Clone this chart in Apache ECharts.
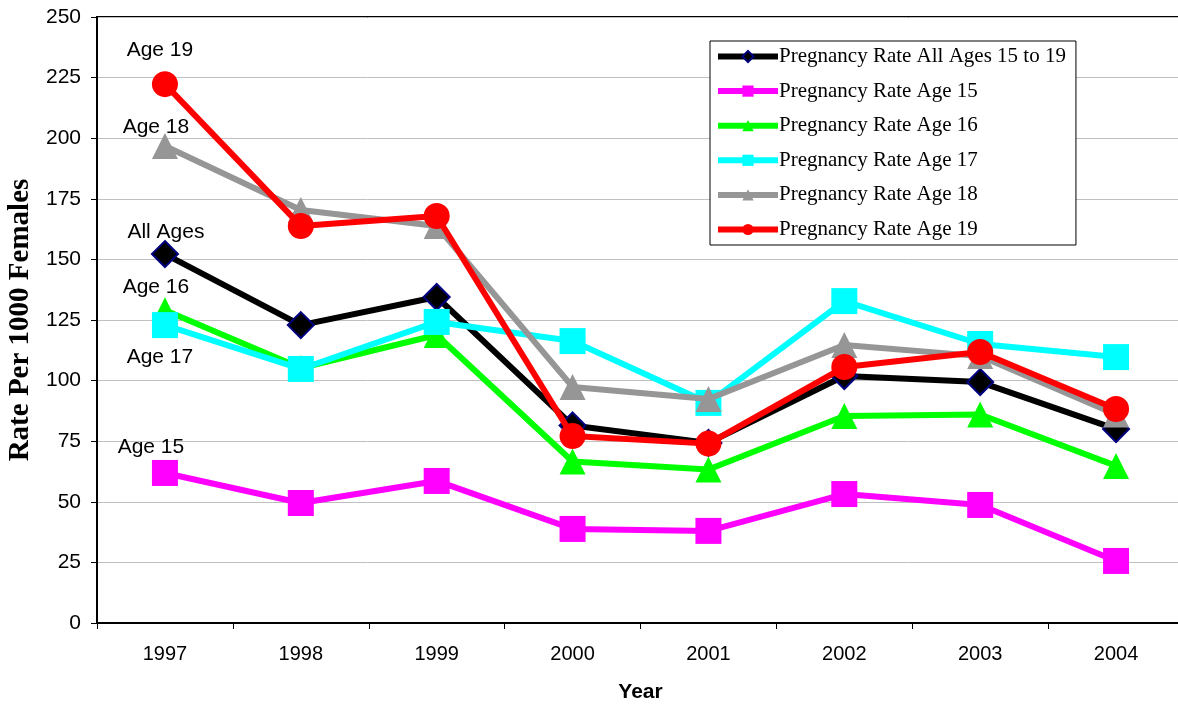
<!DOCTYPE html>
<html>
<head>
<meta charset="utf-8">
<script src="https://cdn.jsdelivr.net/npm/echarts@6/dist/echarts.min.js"></script>
<style>
html,body{margin:0;padding:0;background:#fff;overflow:hidden;}
#c{width:1178px;height:707px;}
</style>
</head>
<body>
<div id="c"></div>
<script>
const years = ['1997','1998','1999','2000','2001','2002','2003','2004'];
const seriesNames = ['Pregnancy Rate All Ages 15 to 19','Pregnancy Rate Age 15','Pregnancy Rate Age 16','Pregnancy Rate Age 17','Pregnancy Rate Age 18','Pregnancy Rate Age 19'];
const allAges = [152.2, 122.9, 134.5, 81.5, 74.3, 101.9, 99.4, 80.0];
const age15 = [61.9, 49.5, 58.6, 38.8, 38.0, 53.2, 48.7, 25.6];
const age16 = [129.0, 105.2, 118.8, 66.6, 63.3, 85.4, 86.0, 64.8];
const age17 = [122.9, 104.8, 124.2, 116.3, 90.8, 132.8, 115.1, 109.7];
const age18 = [196.8, 170.4, 163.8, 97.4, 92.4, 114.7, 110.1, 86.0];
const age19 = [222.3, 163.8, 167.9, 77.1, 74.0, 105.6, 111.8, 88.3];
const firstLabels = ['All Ages','Age 15','Age 16','Age 17','Age 18','Age 19'];
const yTicks = [0, 25, 50, 75, 100, 125, 150, 175, 200, 225, 250];

const values = [allAges, age15, age16, age17, age18, age19];
const colors = ['#000000','#FF00FF','#00FF00','#00FFFF','#969696','#FF0000'];
const symbols = ['diamond','rect','triangle','rect','triangle','circle'];
const sizes = [26, 26, 26, 26, 26, 26];
const labelOffsets = [[1,-22],[-14,-26],[-9,-23],[-5,32],[-9,-19],[-5,-34]];

const series = values.map((vals, i) => ({
  name: seriesNames[i],
  type: 'line',
  data: vals.map((v, j) => j === 0 ? {
    value: v,
    label: {
      show: true,
      formatter: firstLabels[i],
      position: 'inside',
      offset: labelOffsets[i],
      fontFamily: 'Liberation Sans, Arial, sans-serif',
      fontSize: 21,
      color: '#000'
    }
  } : v),
  symbol: symbols[i],
  symbolSize: sizes[i],
  showAllSymbol: true,
  lineStyle: { color: colors[i], width: 6 },
  itemStyle: i === 0 ? { color: '#000', borderColor: '#000080', borderWidth: 2 } : { color: colors[i], borderWidth: 0 },
  emphasis: { disabled: true },
  animation: false,
  z: 2 + i
}));

const chart = echarts.init(document.getElementById('c'), null, { renderer: 'canvas' });
chart.setOption({
  animation: false,
  backgroundColor: '#fff',
  grid: {
    left: 97, width: 1087, top: 17, height: 606,
    containLabel: false,
    outerBoundsMode: 'none',
    show: true, borderColor: '#000', borderWidth: 2, backgroundColor: 'transparent'
  },
  legend: {
    orient: 'vertical',
    left: 710, top: 41,
    data: seriesNames,
    itemWidth: 60, itemHeight: 14, itemGap: 13.6,
    padding: [5, 10, 5, 5],
    borderColor: '#000', borderWidth: 1, backgroundColor: '#fff',
    lineStyle: { width: 6 },
    textStyle: { fontFamily: 'Liberation Serif, Times New Roman, serif', fontSize: 21, color: '#000', padding: [0,0,0,-4] },
    selectedMode: false
  },
  xAxis: {
    type: 'category',
    data: years,
    boundaryGap: true,
    name: 'Year',
    nameLocation: 'middle',
    nameGap: 59,
    nameTextStyle: { fontFamily: 'Liberation Sans, Arial, sans-serif', fontSize: 21, fontWeight: 'bold', color: '#000' },
    axisLine: { lineStyle: { color: '#000', width: 2 } },
    axisTick: { show: true, interval: 0, length: 6, lineStyle: { color: '#000' } },
    axisLabel: { fontFamily: 'Liberation Sans, Arial, sans-serif', fontSize: 20, color: '#000', margin: 21, interval: 0 },
    splitLine: { show: false }
  },
  yAxis: {
    type: 'value',
    min: yTicks[0], max: yTicks[yTicks.length - 1], interval: 25,
    name: 'Rate Per 1000 Females',
    nameLocation: 'middle',
    nameGap: 60,
    nameRotate: 90,
    nameTextStyle: { fontFamily: 'Liberation Serif, Times New Roman, serif', fontSize: 29, fontWeight: 'bold', color: '#000' },
    axisLine: { show: true, lineStyle: { color: '#000', width: 2 } },
    axisTick: { show: true, length: 6, lineStyle: { color: '#000' } },
    axisLabel: { fontFamily: 'Liberation Sans, Arial, sans-serif', fontSize: 21, color: '#000', margin: 16 },
    splitLine: { show: true, lineStyle: { color: '#c0c0c0', width: 1 } }
  },
  series: series
});
</script>
</body>
</html>
